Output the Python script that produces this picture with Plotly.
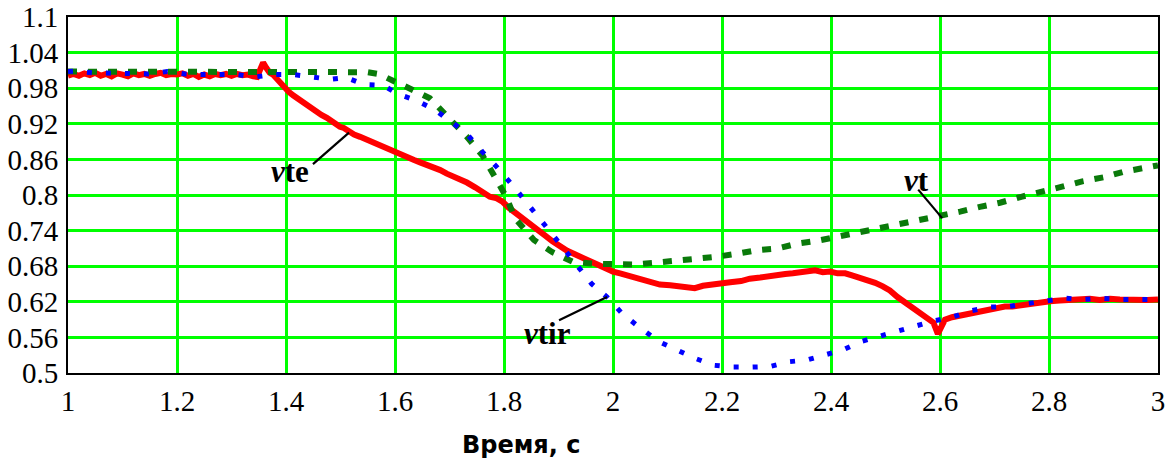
import plotly.graph_objects as go

# ---- data ----
te_x = [1.000, 1.010, 1.020, 1.030, 1.040, 1.050, 1.060, 1.070, 1.080, 1.090,
        1.100, 1.110, 1.120, 1.130, 1.140, 1.150, 1.160, 1.170, 1.180, 1.190,
        1.200, 1.210, 1.220, 1.230, 1.240, 1.250, 1.260, 1.270, 1.280, 1.290,
        1.300, 1.310, 1.320, 1.330, 1.340, 1.347, 1.352, 1.358, 1.364, 1.370,
        1.376, 1.386, 1.398, 1.405, 1.413, 1.425, 1.434, 1.444, 1.455, 1.465,
        1.475, 1.481, 1.490, 1.499, 1.506, 1.514, 1.525, 1.536, 1.548, 1.560,
        1.570, 1.578, 1.590, 1.606, 1.620, 1.635, 1.646, 1.660, 1.672, 1.683,
        1.695, 1.707, 1.719, 1.732, 1.747, 1.760, 1.774, 1.785, 1.797, 1.808,
        1.820, 1.834, 1.848, 1.862, 1.875, 1.889, 1.903, 1.916, 1.930, 1.944,
        1.958, 1.972, 1.985, 2.000, 2.013, 2.030, 2.050, 2.068, 2.086, 2.105,
        2.123, 2.140, 2.150, 2.165, 2.178, 2.196, 2.215, 2.235, 2.251, 2.270,
        2.288, 2.300, 2.316, 2.330, 2.343, 2.357, 2.371, 2.385, 2.398, 2.412,
        2.426, 2.440, 2.453, 2.467, 2.481, 2.495, 2.508, 2.522, 2.536, 2.550,
        2.563, 2.577, 2.588, 2.596, 2.602, 2.609, 2.622, 2.637, 2.650, 2.664,
        2.678, 2.692, 2.705, 2.719, 2.733, 2.747, 2.760, 2.774, 2.788, 2.802,
        2.820, 2.839, 2.857, 2.875, 2.893, 2.912, 2.930, 2.949, 2.965, 2.980,
        3.000]
te_y = [1.001, 1.004, 1.001, 1.005, 1.002, 1.006, 1.001, 1.004, 1.000, 1.005,
        1.003, 1.000, 1.005, 1.002, 1.004, 1.001, 1.004, 1.006, 1.002, 1.004,
        1.003, 1.005, 1.001, 1.004, 0.999, 1.003, 1.000, 1.004, 1.002, 1.004,
        1.001, 1.004, 1.002, 1.003, 1.000, 0.999, 1.010, 1.023, 1.014, 1.006,
        1.003, 0.992, 0.980, 0.974, 0.968, 0.960, 0.955, 0.946, 0.939, 0.935,
        0.930, 0.926, 0.920, 0.915, 0.913, 0.907, 0.902, 0.898, 0.893, 0.889,
        0.885, 0.881, 0.876, 0.869, 0.864, 0.859, 0.855, 0.851, 0.845, 0.842,
        0.836, 0.832, 0.826, 0.821, 0.813, 0.806, 0.797, 0.795, 0.789, 0.779,
        0.770, 0.760, 0.750, 0.741, 0.732, 0.722, 0.713, 0.706, 0.700, 0.694,
        0.689, 0.682, 0.676, 0.671, 0.668, 0.663, 0.659, 0.654, 0.649, 0.648,
        0.647, 0.646, 0.643, 0.647, 0.649, 0.651, 0.653, 0.655, 0.659, 0.661,
        0.664, 0.666, 0.667, 0.668, 0.669, 0.670, 0.673, 0.670, 0.671, 0.668,
        0.668, 0.664, 0.661, 0.656, 0.652, 0.646, 0.639, 0.628, 0.619, 0.609,
        0.602, 0.594, 0.585, 0.566, 0.578, 0.590, 0.594, 0.597, 0.600, 0.603,
        0.606, 0.608, 0.610, 0.612, 0.612, 0.614, 0.616, 0.618, 0.619, 0.621,
        0.622, 0.623, 0.624, 0.625, 0.623, 0.625, 0.624, 0.623, 0.624, 0.623,
        0.624]

tir_x = [1.000, 1.013, 1.046, 1.077, 1.114, 1.147, 1.182, 1.215, 1.242, 1.275,
         1.310, 1.343, 1.376, 1.413, 1.448, 1.481, 1.510, 1.545, 1.578, 1.606,
         1.640, 1.673, 1.699, 1.730, 1.760, 1.787, 1.817, 1.840, 1.862, 1.890,
         1.912, 1.936, 1.961, 1.989, 2.018, 2.050, 2.084, 2.117, 2.150, 2.185,
         2.220, 2.255, 2.288, 2.323, 2.356, 2.387, 2.422, 2.455, 2.486, 2.521,
         2.556, 2.589, 2.622, 2.657, 2.692, 2.725, 2.760, 2.794, 2.829, 2.862,
         2.897, 2.930, 2.965, 3.000]
tir_y = [1.008, 1.009, 1.006, 1.006, 1.006, 1.004, 1.008, 1.004, 1.003, 1.003,
         1.003, 0.999, 1.003, 1.003, 0.999, 0.995, 0.998, 0.986, 0.985, 0.970,
         0.959, 0.944, 0.926, 0.905, 0.873, 0.847, 0.815, 0.788, 0.762, 0.732,
         0.707, 0.678, 0.650, 0.628, 0.599, 0.576, 0.553, 0.539, 0.525, 0.513,
         0.510, 0.510, 0.511, 0.519, 0.522, 0.530, 0.539, 0.553, 0.561, 0.570,
         0.579, 0.588, 0.594, 0.605, 0.611, 0.612, 0.617, 0.621, 0.626, 0.624,
         0.626, 0.624, 0.624, 0.624]

t_x = [1.000, 1.100, 1.200, 1.300, 1.400, 1.500, 1.550, 1.570, 1.585, 1.626,
       1.664, 1.699, 1.732, 1.761, 1.785, 1.804, 1.820, 1.855, 1.888, 1.927,
       1.967, 2.004, 2.040, 2.079, 2.116, 2.154, 2.191, 2.228, 2.264, 2.303,
       2.338, 2.376, 2.413, 2.450, 2.486, 2.521, 2.561, 2.600, 2.637, 2.673,
       2.710, 2.749, 2.789, 2.824, 2.861, 2.901, 2.936, 2.976, 3.000]
t_y = [1.008, 1.008, 1.008, 1.008, 1.008, 1.008, 1.007, 1.004, 0.998, 0.980,
       0.963, 0.930, 0.898, 0.866, 0.828, 0.797, 0.761, 0.724, 0.704, 0.687,
       0.684, 0.683, 0.683, 0.686, 0.689, 0.691, 0.696, 0.701, 0.707, 0.710,
       0.718, 0.723, 0.730, 0.735, 0.742, 0.750, 0.757, 0.763, 0.772, 0.780,
       0.787, 0.797, 0.805, 0.814, 0.823, 0.830, 0.839, 0.847, 0.850]

x_ticks = [1, 1.2, 1.4, 1.6, 1.8, 2, 2.2, 2.4, 2.6, 2.8, 3]
x_tick_text = ["1", "1.2", "1.4", "1.6", "1.8", "2", "2.2", "2.4", "2.6", "2.8", "3"]
y_ticks = [0.5, 0.56, 0.62, 0.68, 0.74, 0.8, 0.86, 0.92, 0.98, 1.04, 1.1]
y_tick_text = ["0.5", "0.56", "0.62", "0.68", "0.74", "0.8", "0.86", "0.92", "0.98", "1.04", "1.1"]

labels = ["<b><i>ν</i>te</b>", "<b><i>ν</i>tir</b>", "<b><i>ν</i>t</b>"]
label_pos = [(1.407, 0.839), (1.879, 0.567), (2.556, 0.824)]
leader_lines = [((1.4495, 0.852), (1.5156, 0.905)),
                ((1.901, 0.589), (1.989, 0.628)),
                ((2.560, 0.809), (2.604, 0.761))]
x_title = "Время, с"

SERIF = "Liberation Serif"

# ---- figure ----
fig = go.Figure()
fig.add_trace(go.Scatter(x=te_x, y=te_y, mode="lines",
                         line=dict(color="#ff0000", width=6), name="vte"))
fig.add_trace(go.Scatter(x=t_x, y=t_y, mode="lines",
                         line=dict(color="#0a7a0a", width=6, dash="9px,11px"), name="vt"))
fig.add_trace(go.Scatter(x=tir_x, y=tir_y, mode="lines",
                         line=dict(color="#0000ff", width=5, dash="5px,14px"), name="vtir"))

for (x0, y0), (x1, y1) in leader_lines:
    fig.add_shape(type="line", xref="x", yref="y", x0=x0, y0=y0, x1=x1, y1=y1,
                  line=dict(color="black", width=2.2))

for txt, (lx, ly) in zip(labels, label_pos):
    fig.add_annotation(x=lx, y=ly, xref="x", yref="y", text=txt, showarrow=False,
                       font=dict(family=SERIF, size=31, color="black"),
                       xanchor="center", yanchor="middle")

fig.add_annotation(x=(521 - 68) / 1090, y=(373 - 445) / 356, xref="paper", yref="paper",
                   text="<b>" + x_title + "</b>", showarrow=False,
                   font=dict(family="DejaVu Sans", size=24, color="black"),
                   xanchor="center", yanchor="middle")

axis_common = dict(showgrid=True, gridcolor="#00ff00", gridwidth=2.5, zeroline=False,
                   showline=True, linecolor="black", linewidth=2, mirror=True,
                   ticks="", automargin=False,
                   tickfont=dict(family=SERIF, size=29, color="black"))

fig.update_xaxes(range=[1, 3], tickvals=x_ticks, ticktext=x_tick_text,
                 ticklabelstandoff=1, **axis_common)
fig.update_yaxes(range=[0.5, 1.1], tickvals=y_ticks, ticktext=y_tick_text,
                 ticklabelstandoff=2, **axis_common)

fig.update_layout(width=1175, height=462, margin=dict(l=68, r=17, t=17, b=89),
                  paper_bgcolor="white", plot_bgcolor="white", showlegend=False)

fig.write_html("out.html")
